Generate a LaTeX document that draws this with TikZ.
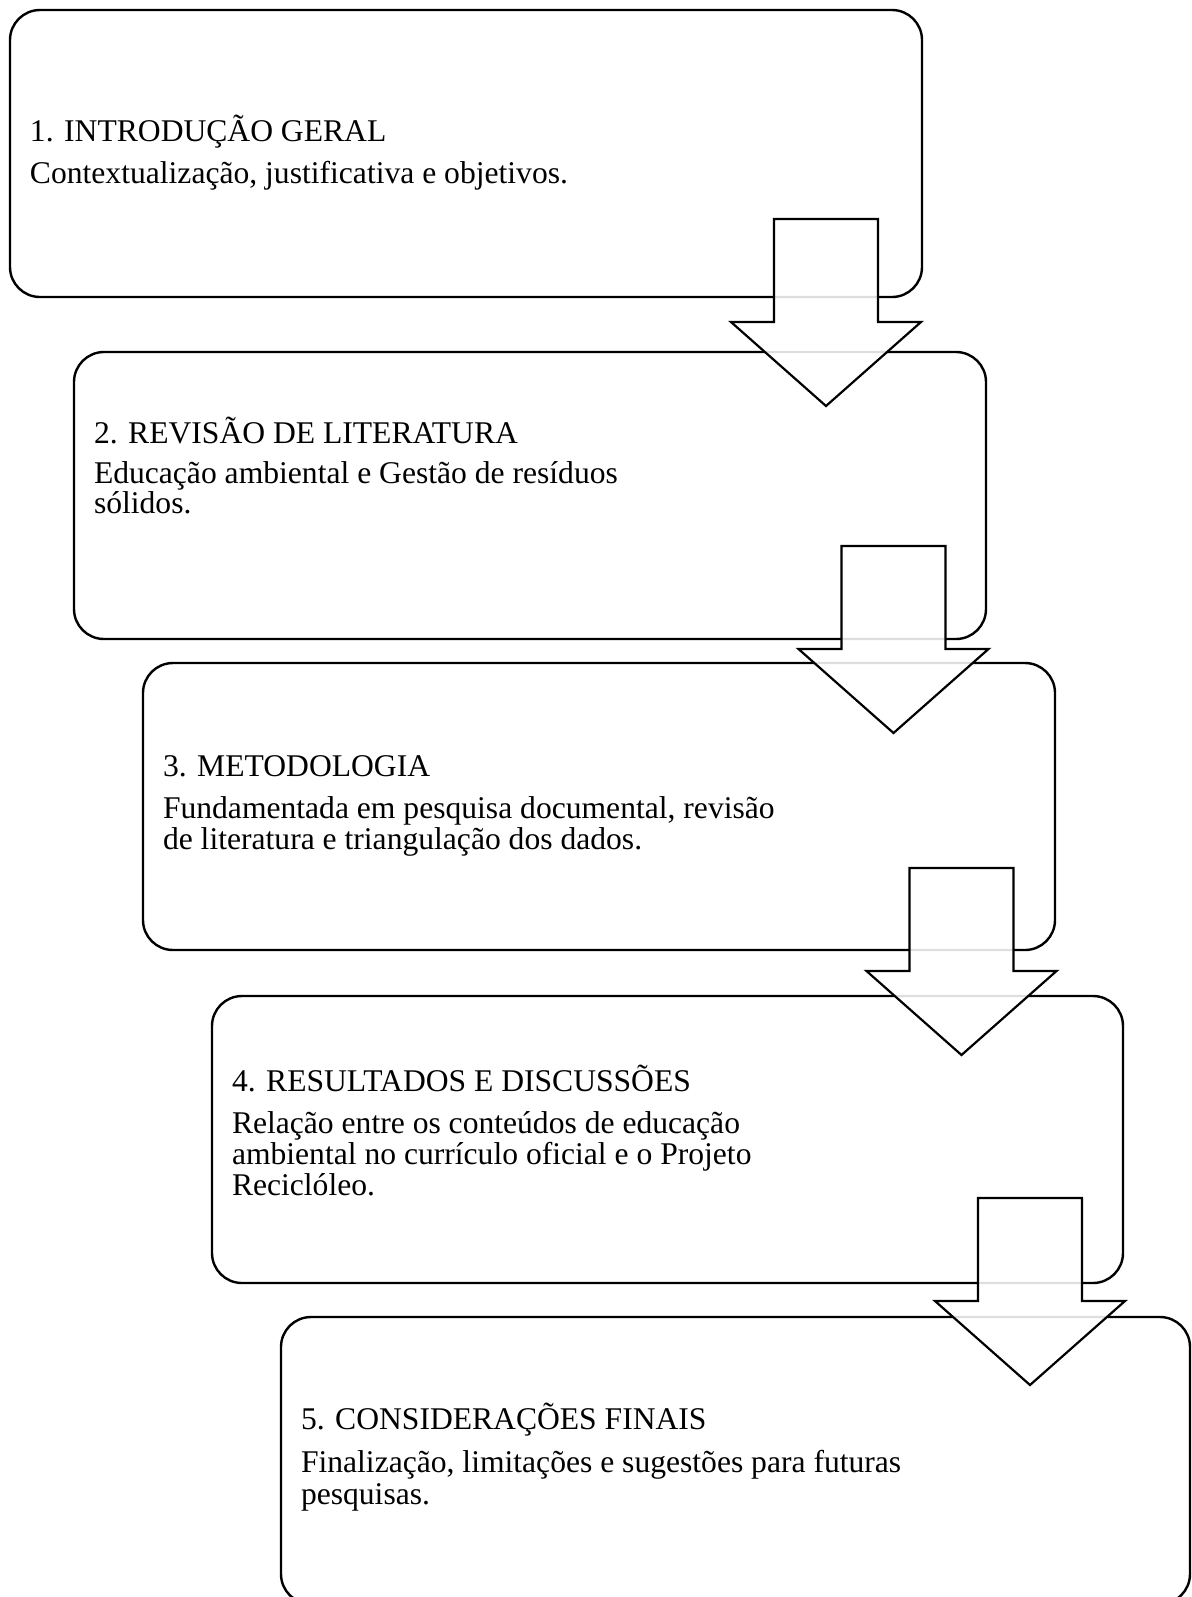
\documentclass[tikz,border=0pt]{standalone}
\usepackage{fontspec}
\setmainfont{Liberation Serif}
\usetikzlibrary{calc}
\tikzset{
  box/.style={draw, line width=1.2pt, rounded corners=15pt, inner sep=0pt, outer sep=0pt, minimum height=143.5pt},
  txt/.style={anchor=base west, inner sep=0pt, outer sep=0pt, font=\fontsize{15.8}{16}\selectfont},
  blockarrow/.style={draw, line width=1.1pt, fill=white, fill opacity=0.87, line join=miter},
  downarrow/.pic={\path[blockarrow] (-52,0) -- (52,0) -- (52,103) -- (95,103) -- (0,187) -- (-95,103) -- (-52,103) -- cycle;}
}
\begin{document}
\begin{tikzpicture}[x=0.5pt, y=-0.5pt]
\useasboundingbox (0,0) rectangle (1192,1597);
% boxes
\node[box, minimum width=456pt] (b1) at (466,153.5) {};
\node[box, minimum width=456pt] (b2) at (530,495.5) {};
\node[box, minimum width=456pt] (b3) at (599,806.5) {};
\node[box, minimum width=455.5pt] (b4) at (667.5,1139.5) {};
\node[box, minimum width=454.5pt] (b5) at (735.5,1460.5) {};
% texts
\node[txt] (t1) at ($(b1.north west)+(20,131)$) {1. INTRODUÇÃO GERAL};
\node[txt] (t1a) at ($(b1.north west)+(20,173)$) {Contextualização, justificativa e objetivos.};
\node[txt] (t2) at ($(b2.north west)+(20,91)$) {2. REVISÃO DE LITERATURA};
\node[txt] (t2a) at ($(b2.north west)+(20,131)$) {Educação ambiental e Gestão de resíduos};
\node[txt] (t2b) at ($(b2.north west)+(20,161)$) {sólidos.};
\node[txt] (t3) at ($(b3.north west)+(20,113)$) {3. METODOLOGIA};
\node[txt] (t3a) at ($(b3.north west)+(20,155)$) {Fundamentada em pesquisa documental, revisão};
\node[txt] (t3b) at ($(b3.north west)+(20,186)$) {de literatura e triangulação dos dados.};
\node[txt] (t4) at ($(b4.north west)+(20,95)$) {4. RESULTADOS E DISCUSSÕES};
\node[txt] (t4a) at ($(b4.north west)+(20,137)$) {Relação entre os conteúdos de educação};
\node[txt] (t4b) at ($(b4.north west)+(20,168)$) {ambiental no currículo oficial e o Projeto};
\node[txt] (t4c) at ($(b4.north west)+(20,199)$) {Reciclóleo.};
\node[txt] (t5) at ($(b5.north west)+(20,112)$) {5. CONSIDERAÇÕES FINAIS};
\node[txt] (t5a) at ($(b5.north west)+(20,155)$) {Finalização, limitações e sugestões para futuras};
\node[txt] (t5b) at ($(b5.north west)+(20,187)$) {pesquisas.};
% block arrows
\coordinate (a1) at (826,219);
\coordinate (a2) at (893.5,546);
\coordinate (a3) at (961.5,868);
\coordinate (a4) at (1030,1198);
\pic at (a1) {downarrow};
\pic at (a2) {downarrow};
\pic at (a3) {downarrow};
\pic at (a4) {downarrow};
\end{tikzpicture}
\end{document}
